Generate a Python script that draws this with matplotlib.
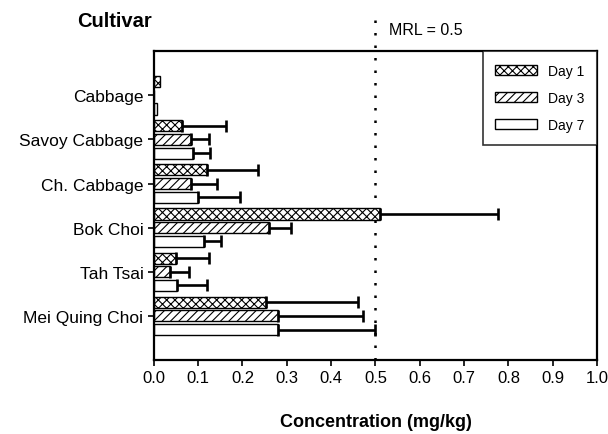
import numpy as np
import matplotlib
matplotlib.use("Agg")
import matplotlib.pyplot as plt

plt.rcParams['font.family'] = ['Liberation Sans', 'DejaVu Sans']
plt.rcParams['hatch.linewidth'] = 0.8

# cultivars, listed top to bottom
cultivars = ["Cabbage", "Savoy Cabbage", "Ch. Cabbage", "Bok Choi", "Tah Tsai", "Mei Quing Choi"]
days = ["Day 1", "Day 3", "Day 7"]

# mean concentration (mg/kg)
day1 = [0.013, 0.063, 0.12, 0.51, 0.05, 0.253]
day3 = [0.0, 0.083, 0.085, 0.26, 0.036, 0.28]
day7 = [0.008, 0.088, 0.10, 0.113, 0.052, 0.28]

# upper end of error bar (mean + sd)
day1_top = [0.013, 0.162, 0.235, 0.777, 0.124, 0.46]
day3_top = [0.0, 0.125, 0.142, 0.31, 0.079, 0.473]
day7_top = [0.008, 0.126, 0.194, 0.151, 0.12, 0.50]

mrl = 0.5

fig = plt.figure(figsize=(6.08, 4.35), dpi=100)
ax = fig.add_axes([0.253, 0.170, 0.729, 0.710])

y = np.arange(len(cultivars))[::-1]
h = 0.25
off = 0.31
series = [
    (day1, day1_top, 'xxxx', off),
    (day3, day3_top, '////', 0.0),
    (day7, day7_top, '', -off),
]
for (vals, tops, hatch, dy), lab in zip(series, days):
    vals = np.array(vals)
    err = np.array(tops) - vals
    ax.barh(y + dy, vals, height=h, color='white', edgecolor='black',
            hatch=hatch, linewidth=1.0, label=lab, zorder=2)
    mask = err > 0
    ax.errorbar(vals[mask], (y + dy)[mask],
                xerr=[np.zeros(mask.sum()), err[mask]],
                fmt='none', ecolor='black', elinewidth=1.9, capsize=4,
                capthick=1.9, zorder=3)

# MRL line, running up past the top of the frame
ax.axvline(mrl, color='black', linestyle=(0, (1, 4)), linewidth=1.8,
           ymax=1.11, clip_on=False, zorder=1)
ax.text(mrl + 0.03, 6.5, "MRL = 0.5", fontsize=11.5, va='center', ha='left')

ax.set_xlim(0, 1.0)
ax.set_ylim(-1, 6)
ax.set_xticks(np.arange(0, 1.01, 0.1))
ax.set_xticklabels([f"{v:.1f}" for v in np.arange(0, 1.01, 0.1)], fontsize=12)
ax.set_yticks(y)
ax.set_yticklabels(cultivars, fontsize=12.5)
ax.tick_params(direction='out', length=4, width=1.2)
for s in ax.spines.values():
    s.set_linewidth(1.6)

ax.set_xlabel("Concentration (mg/kg)", fontsize=13, fontweight='bold', labelpad=20)
fig.text(0.127, 0.972, "Cultivar", fontsize=14.5, fontweight='bold', va='top')

leg = ax.legend(loc='upper right', fontsize=10, frameon=True, fancybox=False,
                edgecolor='black', borderaxespad=0, handlelength=3.0,
                handleheight=0.7, labelspacing=0.95, borderpad=0.9)
leg.get_frame().set_linewidth(1.2)

fig.savefig("out.png", dpi=100)
